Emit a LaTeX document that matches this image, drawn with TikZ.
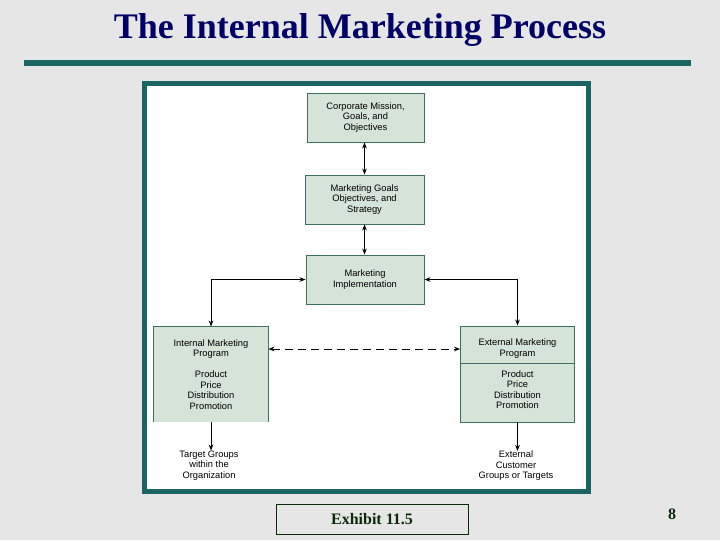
\documentclass[tikz,border=0pt]{standalone}
\usepackage{fontspec}
\setmainfont{Liberation Serif}
\newfontfamily\boxfont{Liberation Sans}
\usetikzlibrary{arrows.meta}
\definecolor{bg}{HTML}{E6E6E6}
\definecolor{titleblue}{HTML}{000066}
\definecolor{tealrule}{HTML}{1B6464}
\definecolor{boxfill}{HTML}{D5E3D8}
\definecolor{boxline}{HTML}{3F6F5F}
\definecolor{exgreen}{HTML}{0A2A0A}
\tikzset{
  gbox/.style={draw=boxline, fill=boxfill, line width=0.7pt, align=center,
    font=\boxfont\fontsize{7}{7.9}\selectfont, inner sep=0pt},
  lbl/.style={align=center, font=\boxfont\fontsize{7}{7.9}\selectfont, inner sep=0pt},
  link/.style={line width=0.75pt, -{Stealth[length=4.5pt,width=3.5pt]}},
  dlink/.style={line width=0.75pt, {Stealth[length=4.5pt,width=3.5pt]}-{Stealth[length=4.5pt,width=3.5pt]}},
}
\begin{document}
\begin{tikzpicture}[x=0.75pt,y=-0.75pt]
\useasboundingbox (0,0) rectangle (720,540);
\fill[bg] (0,0) rectangle (720,540);
\node[font=\fontsize{27}{30}\selectfont\bfseries, text=titleblue, inner sep=0pt] (title) at (360,30) {The Internal Marketing Process};
\draw[tealrule, line width=4.5pt] (24,63) -- (691,63);
\draw[tealrule, line width=3.75pt, fill=white] (144.5,83.5) rectangle (588.5,491.5);

\node[gbox, minimum width=117*0.75pt, minimum height=49*0.75pt] (b1) at (365.5,117.5) {Corporate Mission,\\Goals, and\\Objectives};
\node[gbox, minimum width=119*0.75pt, minimum height=49*0.75pt] (b2) at (364.5,199.5) {Marketing Goals\\Objectives, and\\Strategy};
\node[gbox, minimum width=118*0.75pt, minimum height=49*0.75pt] (b3) at (365,279.5) {Marketing\\Implementation};
\node[gbox, draw=none, minimum width=114*0.75pt, minimum height=95*0.75pt] (intl) at (211,374.5) {Internal Marketing\\Program\\[7.9pt]Product\\Price\\Distribution\\Promotion};
\draw[boxline, line width=0.7pt] (intl.south west) -- (intl.north west) -- (intl.north east) -- (intl.south east);
\node[gbox, minimum width=114*0.75pt, minimum height=96*0.75pt] (ext) at (517.5,374) {External Marketing\\Program\\[7.9pt]Product\\Price\\Distribution\\Promotion};
\coordinate (div) at (0,363.5);
\draw[boxline, line width=0.7pt] (ext.west |- div) -- (ext.east |- div);

\node[lbl] (tg) at (209,465.5) {Target Groups\\within the\\Organization};
\node[lbl] (ec) at (516,466) {External\\Customer\\Groups or Targets};

\draw[dlink] (b1.south -| b2.north) -- (b2.north);
\draw[dlink] (b2.south) -- (b3.north -| b2.south);
\draw[dlink] (b3.west) -| (intl.north);
\draw[dlink] (b3.east) -| (ext.north);
\coordinate (dy) at (0,349);
\draw[dlink, dash pattern=on 6pt off 3.75pt] (intl.east |- dy) -- (ext.west |- dy);
\draw[link] (intl.south) -- (intl.south |- tg.north);
\draw[link] (ext.south) -- (ext.south |- ec.north);

\node[draw=exgreen, line width=0.75pt, minimum width=192*0.75pt, minimum height=30*0.75pt, inner sep=0pt,
  font=\fontsize{12}{14}\selectfont\bfseries, text=exgreen] (exh) at (372,519) {Exhibit 11.5};
\node[font=\fontsize{12}{14}\selectfont\bfseries, text=exgreen, inner sep=0pt] (pg) at (672,514) {8};
\end{tikzpicture}
\end{document}
